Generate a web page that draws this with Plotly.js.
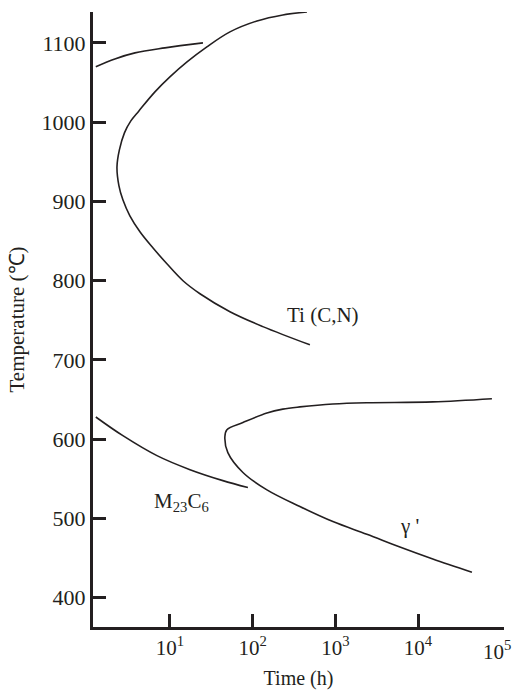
<!DOCTYPE html>
<html>
<head>
<meta charset="utf-8">
<script src="https://cdn.plot.ly/plotly-3.0.1.min.js"></script>
<style>html,body{margin:0;padding:0;background:#fff;}#chart{width:512px;height:691px;}</style>
</head>
<body>
<div id="chart"></div>
<script>
// Upper short branch (near 1100 °C)
const upperTime = [1.27, 2.16, 3.78, 8.7, 25.1];
const upperTemp = [1070, 1079.8, 1087.4, 1093.7, 1100];

// Ti(C,N) C-curve
const tiTime = [493, 133, 53.2, 23.1, 14.4, 9.2, 6.22, 4.34, 3.28, 2.70, 2.42, 2.29, 2.45, 2.82, 3.37, 4.22, 6.59, 10, 16.1, 28.0, 53.2, 113, 232, 454];
const tiTemp = [719, 742, 760.8, 783.5, 799.9, 821.3, 841.5, 861.7, 881.8, 902, 919.7, 943.6, 965, 986.5, 1001.6, 1014.2, 1038.2, 1057.1, 1076, 1095, 1113.9, 1127.7, 1135.3, 1139];

// M23C6 curve
const mTime = [1.27, 2.70, 6.97, 17.5, 43.7, 87.7];
const mTemp = [628, 604.4, 579.2, 561.5, 547.7, 539];

// gamma' C-curve
const gTime = [78300, 15100, 2410, 935, 373, 232, 149, 76.4, 48.9, 46.2, 50.2, 76.4, 149, 373, 935, 2410, 6040, 15100, 44900];
const gTemp = [651, 647, 646, 644.4, 640.7, 637.9, 633, 621, 612, 603, 583, 558, 536, 515, 496, 480, 463.8, 448.7, 432];

// Axis ticks
const xTickVals = [10, 100, 1000, 10000];
const xTickText = ['10<sup>1</sup>', '10<sup>2</sup>', '10<sup>3</sup>', '10<sup>4</sup>'];
const yTickVals = [400, 500, 600, 700, 800, 900, 1000, 1100];

// Curve labels
const labelText = ['Ti (C,N)', 'M<sub>23</sub>C<sub>6</sub>', 'γ \''];
const labelTime = [708, 14.0, 7940];
const labelTemp = [757, 521, 490];

const ink = '#231f20';
const font = 'Liberation Serif, Times New Roman, serif';
const lineStyle = {color: ink, width: 1.6, shape: 'spline', smoothing: 1};

const traces = [
  {x: upperTime, y: upperTemp},
  {x: tiTime, y: tiTemp},
  {x: mTime, y: mTemp},
  {x: gTime, y: gTemp}
].map(t => Object.assign({type: 'scatter', mode: 'lines', line: lineStyle, hoverinfo: 'skip'}, t));

const annotations = labelText.map((t, i) => ({
  x: Math.log10(labelTime[i]), y: labelTemp[i], xref: 'x', yref: 'y',
  text: t, showarrow: false, font: {family: font, size: 21, color: ink}
}));
annotations.push({
  x: 5, y: 0, xref: 'x', yref: 'paper', yanchor: 'top', yshift: -8, xshift: -4,
  text: '10<sup>5</sup>', showarrow: false, font: {family: font, size: 21, color: ink}
});

const layout = {
  width: 512, height: 691,
  margin: {l: 93, r: 8, t: 12, b: 64},
  paper_bgcolor: '#fff', plot_bgcolor: '#fff',
  showlegend: false,
  font: {family: font, size: 20, color: ink},
  xaxis: {
    type: 'log', range: [0.07, 5.04],
    tickvals: xTickVals, ticktext: xTickText,
    ticks: 'inside', ticklen: 13, tickwidth: 3, tickcolor: ink,
    showline: true, linewidth: 3, linecolor: ink,
    showgrid: false, zeroline: false,
    tickfont: {family: font, size: 21, color: ink},
    title: {text: 'Time (h)', font: {family: font, size: 20, color: ink}, standoff: 12}
  },
  yaxis: {
    range: [363, 1139],
    tickvals: yTickVals,
    ticks: 'inside', ticklen: 13, tickwidth: 3, tickcolor: ink,
    showline: true, linewidth: 3, linecolor: ink,
    showgrid: false, zeroline: false,
    tickfont: {family: font, size: 22, color: ink},
    title: {text: 'Temperature (℃)', font: {family: font, size: 21, color: ink}, standoff: 12}
  },
  annotations: annotations
};

Plotly.newPlot('chart', traces, layout, {staticPlot: true, displayModeBar: false});
</script>
</body>
</html>
